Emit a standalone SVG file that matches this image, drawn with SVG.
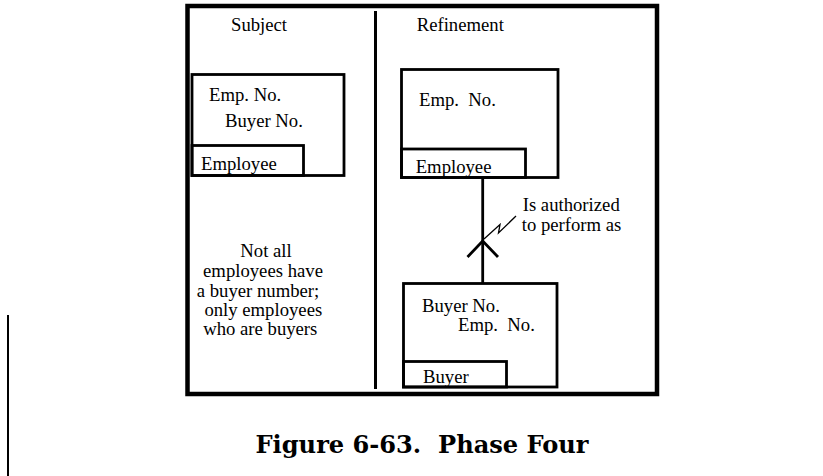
<svg xmlns="http://www.w3.org/2000/svg" width="823" height="476" viewBox="0 0 823 476">
<style>
.t{font-family:"Liberation Serif","Times New Roman",serif;font-size:18.7px;fill:#000;white-space:pre}
.c{text-anchor:middle}
.box{fill:none;stroke:#000;stroke-width:2.8}
.ln{fill:none;stroke:#000;stroke-width:2.8}
.cap{font-family:"DejaVu Serif Condensed","DejaVu Serif",serif;font-weight:bold;font-size:25px;fill:#000;white-space:pre}
</style>
<rect width="823" height="476" fill="#fff"/>
<line x1="8" y1="315" x2="8" y2="476" stroke="#000" stroke-width="2"/>
<g id="frame">
<rect x="187.5" y="6" width="469.5" height="388" fill="none" stroke="#000" stroke-width="4.5"/>
<line x1="375.5" y1="11" x2="375.5" y2="389" stroke="#000" stroke-width="3"/>
<text class="t" x="231" y="31">Subject</text>
<text class="t" x="416.7" y="31">Refinement</text>
</g>
<g id="subject-employee">
<rect class="box" x="192" y="74.5" width="152" height="101"/>
<rect class="box" x="192" y="145.5" width="111.5" height="30"/>
<text class="t" x="209" y="101">Emp. No.</text>
<text class="t" x="225" y="126.5">Buyer No.</text>
<text class="t" x="201" y="170">Employee</text>
</g>
<g id="note">
<text class="t c" x="266" y="257.3">Not all</text>
<text class="t c" x="263" y="277.3">employees have</text>
<text class="t c" x="258" y="296.7">a buyer number;</text>
<text class="t c" x="263.3" y="316">only employees</text>
<text class="t c" x="260.3" y="335">who are buyers</text>
</g>
<g id="employee">
<rect class="box" x="401.5" y="69.5" width="156.5" height="108"/>
<rect class="box" x="401.5" y="149" width="124" height="28.5"/>
<text class="t" x="419" y="106">Emp.  No.</text>
<text class="t" x="415.7" y="172.5">Employee</text>
</g>
<g id="buyer">
<rect class="box" x="403.5" y="283.5" width="153.5" height="103.5"/>
<rect class="box" x="403.5" y="361.5" width="103" height="25.5"/>
<text class="t" x="422" y="311.5">Buyer No.</text>
<text class="t" x="458" y="331">Emp.  No.</text>
<text class="t" x="423" y="382.5">Buyer</text>
</g>
<g id="connectors">
<line class="ln" x1="482.7" y1="177.5" x2="482.7" y2="283.5"/>
<polyline class="ln" points="467.5,257 482.7,241 498,257" stroke-width="3"/>
<polyline fill="none" stroke="#000" stroke-width="1.3" points="484,239 500,224.5 498.5,233 516,216"/>
<text class="t" x="522.7" y="210.5">Is authorized</text>
<text class="t" x="521.7" y="231">to perform as</text>
</g>
<text class="cap" x="422" y="453" text-anchor="middle" textLength="333" lengthAdjust="spacingAndGlyphs">Figure 6-63.  Phase Four</text>
</svg>
